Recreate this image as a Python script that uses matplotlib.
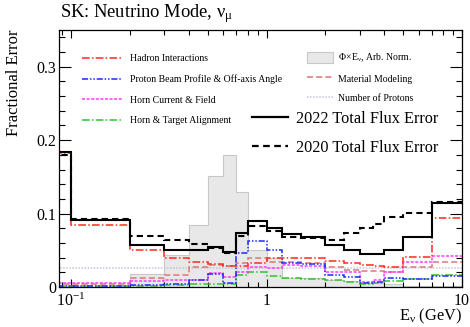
import numpy as np
import matplotlib
matplotlib.use("Agg")
import matplotlib.pyplot as plt
from matplotlib.lines import Line2D
from matplotlib.patches import Patch
from matplotlib.ticker import (FixedLocator, FixedFormatter, LogLocator,
                               NullFormatter, MultipleLocator)

plt.rcParams['font.family'] = ['Liberation Serif', 'DejaVu Serif']
plt.rcParams['mathtext.fontset'] = 'custom'
plt.rcParams['mathtext.rm'] = 'Liberation Serif'
plt.rcParams['mathtext.it'] = 'Liberation Serif:italic'

# Energy binning (GeV)
bin_edges = [0.0, 0.1, 0.2, 0.3, 0.4, 0.5, 0.6, 0.7, 0.8, 1.0, 1.2, 1.5,
             2.0, 2.5, 3.0, 3.5, 4.0, 5.0, 7.0, 10.0]

total_2022 = [0.184, 0.091, 0.057, 0.051, 0.051, 0.054, 0.048, 0.074, 0.090,
              0.080, 0.072, 0.068, 0.057, 0.051, 0.0455, 0.0455, 0.051, 0.068, 0.115]
total_2020 = [0.180, 0.092, 0.070, 0.064, 0.058, 0.053, 0.046, 0.070, 0.083,
              0.076, 0.068, 0.067, 0.064, 0.073, 0.081, 0.086, 0.096, 0.101, 0.116]
hadron = [0.183, 0.084, 0.051, 0.039, 0.034, 0.032, 0.029, 0.028, 0.033,
          0.040, 0.040, 0.039, 0.035, 0.033, 0.030, 0.029, 0.027, 0.041, 0.094]
beam_profile = [0.002, 0.002, 0.003, 0.004, 0.010, 0.018, 0.006, 0.046, 0.062,
                0.050, 0.033, 0.031, 0.017, 0.013, 0.006, 0.007, 0.012, 0.011, 0.0146]
horn_current = [0.005, 0.005, 0.008, 0.009, 0.009, 0.019, 0.014, 0.021, 0.027,
                0.026, 0.030, 0.028, 0.021, 0.020, 0.007, 0.010, 0.020, 0.034, 0.042]
horn_alignment = [0.001, 0.001, 0.002, 0.003, 0.0046, 0.0046, 0.0046, 0.016, 0.021,
                  0.015, 0.012, 0.0115, 0.010, 0.007, 0.0046, 0.006, 0.008, 0.011, 0.016]
material = [0.004, 0.004, 0.012, 0.017, 0.027, 0.030, 0.028, 0.033, 0.039,
            0.034, 0.034, 0.033, 0.027, 0.023, 0.022, 0.022, 0.021, 0.027, 0.034]
n_protons = [0.026, 0.026, 0.026, 0.026, 0.026, 0.026, 0.026, 0.026, 0.026,
             0.026, 0.026, 0.026, 0.026, 0.026, 0.026, 0.026, 0.026, 0.026, 0.026]
flux_x_e = [0.0, 0.0, 0.018, 0.043, 0.085, 0.151, 0.180, 0.130, 0.051,
            0.040, 0.012, 0.012, 0.009, 0.008, 0.006, 0.005, 0.004, 0.002, 0.001]

x_major = [0.1, 1.0, 10.0]
x_major_labels = [r'$\mathregular{10^{-1}}$', '1', '10']
y_major = [0.0, 0.1, 0.2, 0.3]
y_major_labels = ['0', '0.1', '0.2', '0.3']

fig = plt.figure(figsize=(4.70, 3.27), dpi=100)
ax = fig.add_axes([59 / 470, 1 - 287 / 327, 403 / 470, 257 / 327])

# the first edge sits at zero, which a log axis cannot show
edges = np.array(bin_edges)
edges[0] = 1e-3

c_had = '#ff2a1a'
c_beam = '#1a2aff'
c_horn = '#ff3cff'
c_align = '#2ec42e'
c_mat = '#d87878'
c_prot = '#c4c4dc'

ls_had = (0, (5, 1.5, 1, 1.5))
ls_beam = (0, (4, 1.2, 1, 1.2, 1, 1.2))
ls_horn = (0, (2, 1))
ls_align = (0, (5, 1.5, 1, 1.5))
ls_mat = (0, (4, 2))
ls_prot = (0, (1, 1))
ls_2020 = (0, (3, 2))

lw = 1.1
ax.stairs(flux_x_e, edges, baseline=0, fill=True, color='#e8e8e8', zorder=1)
ax.stairs(flux_x_e, edges, baseline=0, color='#c8c8c8', lw=0.8, zorder=1.1)
ax.stairs(n_protons, edges, baseline=None, color=c_prot, lw=lw, ls=ls_prot, zorder=2)
ax.stairs(material, edges, baseline=None, color=c_mat, lw=lw, ls=ls_mat, zorder=2)
ax.stairs(horn_alignment, edges, baseline=None, color=c_align, lw=lw, ls=ls_align, zorder=2)
ax.stairs(horn_current, edges, baseline=None, color=c_horn, lw=lw, ls=ls_horn, zorder=2)
ax.stairs(beam_profile, edges, baseline=None, color=c_beam, lw=lw, ls=ls_beam, zorder=2)
ax.stairs(hadron, edges, baseline=None, color=c_had, lw=lw, ls=ls_had, zorder=2)
ax.stairs(total_2020, edges, baseline=None, color='black', lw=1.5, ls=ls_2020, zorder=3)
ax.stairs(total_2022, edges, baseline=None, color='black', lw=1.5, zorder=3)

ax.set_xscale('log')
ax.set_xlim(0.0868, 10)
ax.set_ylim(0, 0.35)

ax.xaxis.set_major_locator(FixedLocator(x_major))
ax.xaxis.set_major_formatter(FixedFormatter(x_major_labels))
ax.xaxis.set_minor_locator(LogLocator(base=10, subs=np.arange(2, 10)))
ax.xaxis.set_minor_formatter(NullFormatter())
ax.yaxis.set_major_locator(FixedLocator(y_major))
ax.yaxis.set_major_formatter(FixedFormatter(y_major_labels))
ax.yaxis.set_minor_locator(MultipleLocator(0.02))

ax.tick_params(which='both', direction='in', top=True, right=True, width=0.8)
ax.tick_params(axis='y', which='major', length=8.5, labelsize=11.5, pad=2)
ax.tick_params(axis='y', which='minor', length=4.5)
ax.tick_params(axis='x', which='major', length=6, labelsize=11.5, pad=4)
ax.tick_params(axis='x', which='minor', length=3.5)
for s in ax.spines.values():
    s.set_linewidth(0.9)

fig.text(60 / 470, 1 - 14 / 327, r'SK: Neutrino Mode, $\mathregular{\nu_{\mu}}$',
         ha='left', va='center', fontsize=13.3)
fig.text(14 / 470, 1 - 30 / 327, 'Fractional Error', rotation=90,
         ha='center', va='top', fontsize=12)
fig.text(462 / 470, 1 - 320 / 327, r'$\mathregular{E_{\nu}}$ (GeV)',
         ha='right', va='baseline', fontsize=11.8)

left_handles = [
    Line2D([], [], color=c_had, lw=lw, ls=ls_had),
    Line2D([], [], color=c_beam, lw=lw, ls=ls_beam),
    Line2D([], [], color=c_horn, lw=lw, ls=ls_horn),
    Line2D([], [], color=c_align, lw=lw, ls=ls_align),
]
left_labels = ['Hadron Interactions', 'Proton Beam Profile & Off-axis Angle',
               'Horn Current & Field', 'Horn & Target Alignment']
leg1 = ax.legend(left_handles, left_labels, loc='upper left',
                 bbox_to_anchor=(0.057, 0.906), frameon=False, fontsize=7,
                 handlelength=4.1, handletextpad=0.85, labelspacing=1.18,
                 borderpad=0, borderaxespad=0)
ax.add_artist(leg1)

right_handles = [
    Patch(facecolor='#e8e8e8', edgecolor='#c8c8c8', lw=0.8),
    Line2D([], [], color=c_mat, lw=lw, ls=ls_mat),
    Line2D([], [], color=c_prot, lw=lw, ls=ls_prot),
]
right_labels = [r'$\mathregular{\Phi\!\times\!E_{\nu}}$, Arb. Norm.',
                'Material Modeling', 'Number of Protons']
leg2 = ax.legend(right_handles, right_labels, loc='upper left',
                 bbox_to_anchor=(0.615, 0.916), frameon=False, fontsize=7,
                 handlelength=2.7, handleheight=1.45, handletextpad=0.5,
                 labelspacing=0.85, borderpad=0, borderaxespad=0)
ax.add_artist(leg2)

big_handles = [
    Line2D([], [], color='black', lw=1.6),
    Line2D([], [], color='black', lw=1.6, ls=ls_2020),
]
big_labels = ['2022 Total Flux Error', '2020 Total Flux Error']
ax.legend(big_handles, big_labels, loc='upper left',
          bbox_to_anchor=(0.478, 0.686), frameon=False, fontsize=11.7,
          handlelength=2.25, handletextpad=0.47, labelspacing=0.82,
          borderpad=0, borderaxespad=0)

fig.savefig('out.png', dpi=100)
